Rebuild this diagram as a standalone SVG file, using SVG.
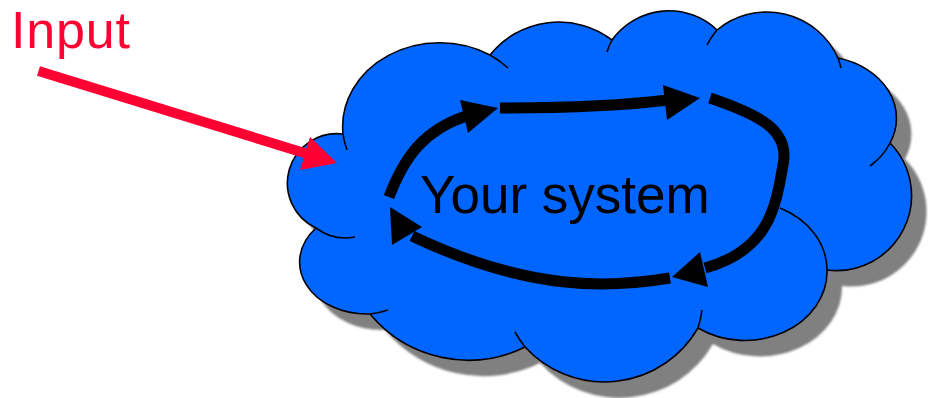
<svg xmlns="http://www.w3.org/2000/svg" width="928" height="398" viewBox="0 0 928 398">
<style>
.cloud{fill:#0066FF;stroke:#000;stroke-width:1.6;stroke-linejoin:round}
.shadow{fill:#808080}
.stub{fill:none;stroke:#000;stroke-width:1.6}
.flow{fill:none;stroke:#000;stroke-width:11}
.head{fill:#000}
.inflow{fill:none;stroke:#FF0033;stroke-width:10}
.inhead{fill:#FF0033}
.lbl{font-family:"Liberation Sans",Arial,sans-serif}
</style>
<defs>
<path id="cloudPath" d="M 343 134 A 97 84 0 0 1 490 55 A 88 88 0 0 1 612 40 A 70 70 0 0 1 717 30 A 78 78 0 0 1 838 58 A 77 62 0 0 1 890 143 A 75 75 0 0 1 827 270 A 82 69 0 0 1 698 328 A 108 108 0 0 1 525 347 A 128 128 0 0 1 370 314 A 67 52 0 0 1 316 228 A 49.5 49.5 0 0 1 343 134 Z"/>
<filter id="soft" x="-5%" y="-5%" width="110%" height="110%"><feGaussianBlur stdDeviation="1"/></filter>
</defs>
<g id="cloud">
<use href="#cloudPath" class="shadow" transform="translate(15,16)" filter="url(#soft)"/>
<use href="#cloudPath" class="cloud"/>
<path class="stub" d="M 347 150 A 97 84 0 0 1 343 134"/>
<path class="stub" d="M 490 55 A 97 84 0 0 1 508 68"/>
<path class="stub" d="M 607 52 A 70 70 0 0 1 612 40"/>
<path class="stub" d="M 707 45 A 78 78 0 0 1 717 30"/>
<path class="stub" d="M 838 58 A 78 78 0 0 1 841 68"/>
<path class="stub" d="M 890 143 A 77 62 0 0 1 870 166"/>
<path class="stub" d="M 780 208 A 82 69 0 0 1 827 270"/>
<path class="stub" d="M 702 310 A 108 108 0 0 1 698 328"/>
<path class="stub" d="M 525 347 A 108 108 0 0 1 515 332"/>
<path class="stub" d="M 388 310 A 67 52 0 0 1 370 314"/>
<path class="stub" d="M 355 237 A 49.5 49.5 0 0 1 316 228"/>
<text class="lbl" x="420" y="213" font-size="53" fill="#000">Your system</text>
</g>
<g id="input">
<text class="lbl" x="11" y="48" font-size="52" textLength="119" fill="#FF0033">Input</text>
</g>
<g id="connectors">
<path class="inflow" d="M 38.5 71 L 306 153.5"/>
<polygon class="inhead" points="310,137 337,163 300,170"/>
<path class="flow" d="M 389 197 C 405 155, 425 130, 466 116"/>
<polygon class="head" points="460,100 498,108 468,133"/>
<path class="flow" d="M 500 108 C 560 108, 620 106, 668 100"/>
<polygon class="head" points="663,85 700,98 667,120"/>
<path class="flow" d="M 710 98 C 760 115, 790 130, 783 165 C 776 205, 770 250, 705 268"/>
<polygon class="head" points="700,252 672,277 708,287"/>
<path class="flow" d="M 670 278 C 610 288, 530 292, 412 236"/>
<polygon class="head" points="422,227 390,207 392,245"/>
</g>
</svg>
